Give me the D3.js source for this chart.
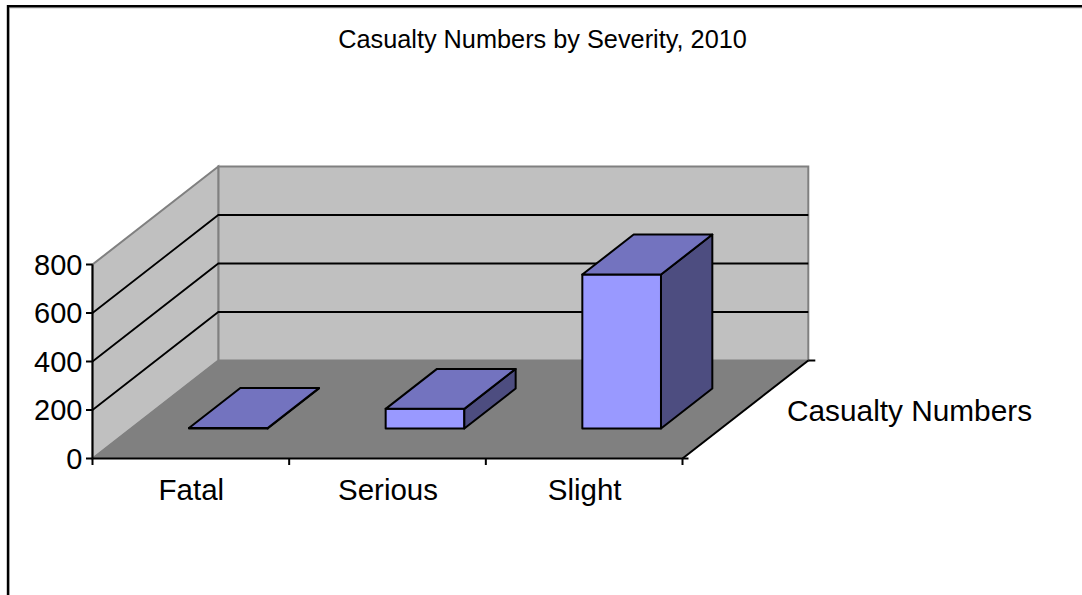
<!DOCTYPE html>
<html><head><meta charset="utf-8">
<script src="https://cdnjs.cloudflare.com/ajax/libs/d3/7.8.5/d3.min.js"></script>
<style>html,body{margin:0;padding:0;background:#fff}svg{display:block}text{font-family:"Liberation Sans",Arial,sans-serif;fill:#000}</style>
</head><body><script>
const categories = ["Fatal", "Serious", "Slight"];
const values = [2, 81, 635];
const yTicks = [0, 200, 400, 600, 800];
const seriesName = "Casualty Numbers";
const chartTitle = "Casualty Numbers by Severity, 2010";

const W = 1082, H = 595;
const left = 92.5, right = 682.5, floorY = 458.5, topY = 264.5;
const depthX = 125.8, depthY = 98;

const svg = d3.select("body").append("svg").attr("width", W).attr("height", H);
const x = d3.scaleBand().domain(categories).range([left - 1, right - 1]).paddingInner(0.6).paddingOuter(0.3);
const xEdge = d3.scalePoint().domain(d3.range(categories.length + 1)).range([left, right]);
const y = d3.scaleLinear().domain([0, 800]).range([floorY, topY]);
const depthFront = 0.306, depthBack = 0.714;
const pt = (px, py, d) => [px + d * depthX, py - d * depthY];
const poly = pts => "M" + pts.map(p => p.join(",")).join("L") + "Z";

// frame: shadow then black rule, open at right and bottom
svg.append("path").attr("d", `M9.5,${H}V8H${W}`).attr("fill", "none").attr("stroke", "#c8c8c8").attr("stroke-width", 1);
svg.append("path").attr("d", `M8,${H}V6.2H${W}`).attr("fill", "none").attr("stroke", "#000").attr("stroke-width", 2.4);

svg.append("text").attr("x", 542.5).attr("y", 48).attr("text-anchor", "middle").attr("font-size", 25.3).text(chartTitle);

// walls
const wallStroke = "#808080";
svg.append("path").attr("fill", "#c0c0c0").attr("stroke", wallStroke).attr("stroke-width", 2)
  .attr("d", poly([pt(left, y(0), 1), pt(right, y(0), 1), pt(right, y(800), 1), pt(left, y(800), 1)]));
svg.append("path").attr("fill", "#c0c0c0").attr("stroke", wallStroke).attr("stroke-width", 2)
  .attr("d", poly([pt(left, y(0), 0), pt(left, y(0), 1), pt(left, y(800), 1), pt(left, y(800), 0)]));
svg.append("path").attr("fill", "#808080").attr("stroke", wallStroke).attr("stroke-width", 1)
  .attr("d", poly([pt(left, y(0), 0), pt(right, y(0), 0), pt(right, y(0), 1), pt(left, y(0), 1)]));

// gridlines
yTicks.filter(t => t > 0 && t < 800).forEach(t => {
  svg.append("path").attr("fill", "none").attr("stroke", "#000").attr("stroke-width", 1.8)
    .attr("d", "M" + [pt(left, y(t), 0), pt(left, y(t), 1), pt(right, y(t), 1)].map(p => p.join(",")).join("L"));
});

// axes
const axisLine = (a, b) => svg.append("line").attr("x1", a[0]).attr("y1", a[1]).attr("x2", b[0]).attr("y2", b[1]).attr("stroke", "#000").attr("stroke-width", 2);
axisLine([left, y(0)], [left, y(800)]);
axisLine([left, y(0)], [right, y(0)]);
axisLine(pt(right, y(0), 0), pt(right, y(0), 1));
yTicks.forEach(t => {
  axisLine([left - 6.5, y(t)], [left, y(t)]);
  svg.append("text").attr("x", left - 10).attr("y", y(t) + 10).attr("text-anchor", "end").attr("font-size", 29).text(t);
});
d3.range(categories.length + 1).forEach(i => axisLine([xEdge(i), floorY], [xEdge(i), floorY + 6.5]));
axisLine(pt(right, y(0), 0), [pt(right, y(0), 0)[0] + 6, floorY]);
axisLine(pt(right, y(0), 1), [pt(right, y(0), 1)[0] + 7, floorY - depthY]);

categories.forEach((c, i) => {
  svg.append("text").attr("x", (xEdge(i) + xEdge(i + 1)) / 2 + 0.5).attr("y", 500).attr("text-anchor", "middle").attr("font-size", 29.5).text(c);
});
svg.append("text").attr("x", 787).attr("y", 421).attr("font-size", 29.8).text(seriesName);

// bars
categories.forEach((c, i) => {
  const x0 = x(c), x1 = x0 + x.bandwidth(), y0 = y(0), y1 = y(values[i]);
  const g = svg.append("g").attr("stroke", "#000").attr("stroke-width", 2).attr("stroke-linejoin", "round");
  g.append("path").attr("fill", "#9999ff").attr("d", poly([pt(x0, y0, depthFront), pt(x1, y0, depthFront), pt(x1, y1, depthFront), pt(x0, y1, depthFront)]));
  g.append("path").attr("fill", "#4d4d80").attr("d", poly([pt(x1, y0, depthFront), pt(x1, y0, depthBack), pt(x1, y1, depthBack), pt(x1, y1, depthFront)]));
  g.append("path").attr("fill", "#7373bf").attr("d", poly([pt(x0, y1, depthFront), pt(x1, y1, depthFront), pt(x1, y1, depthBack), pt(x0, y1, depthBack)]));
});
</script></body></html>
